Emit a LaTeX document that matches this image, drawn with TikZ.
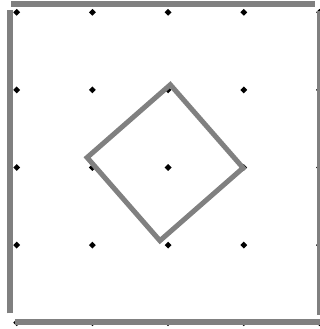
\documentclass[tikz,border=0pt]{standalone}
\usetikzlibrary{shapes.geometric}
\definecolor{bargray}{HTML}{808080}
\tikzset{
  gdot/.style={diamond,fill=black,inner sep=0pt,minimum size=7pt},
  bar/.style={draw=bargray,line width=6pt,line cap=butt},
  sq/.style={draw=bargray,line width=5pt,line join=miter}
}
\begin{document}
\begin{tikzpicture}[x=1pt,y=-1pt]
\useasboundingbox (0,0) rectangle (320,329);
\clip (0,0) rectangle (320,329);
\fill[white] (0,0) rectangle (320,329);
% grid of dots
\foreach \i in {0,...,4}{
  \foreach \j in {0,...,4}{
    \node[gdot] (d-\i-\j) at ({16.7+75.7*\i},{12.3+77.6*\j}) {};
  }
}
% frame bars
\coordinate (t1) at (11,4.5);
\coordinate (t2) at (315,4.5);
\coordinate (r1) at (319.7,11.5);
\coordinate (r2) at (319.7,315);
\coordinate (b1) at (326,322);
\coordinate (b2) at (15,322);
\coordinate (l1) at (9.7,313.3);
\coordinate (l2) at (9.7,10);
\draw[bar] (t1) -- (t2);
\draw[bar] (r1) -- (r2);
\draw[bar] (b1) -- (b2);
\draw[bar] (l1) -- (l2);
% tilted square
\coordinate (sT) at (170.3,84.7);
\coordinate (sR) at (243.1,167.9);
\coordinate (sB) at (159.9,240.7);
\coordinate (sL) at (87.1,157.5);
\draw[sq] (sT) -- (sR) -- (sB) -- (sL) -- cycle;
\end{tikzpicture}
\end{document}
